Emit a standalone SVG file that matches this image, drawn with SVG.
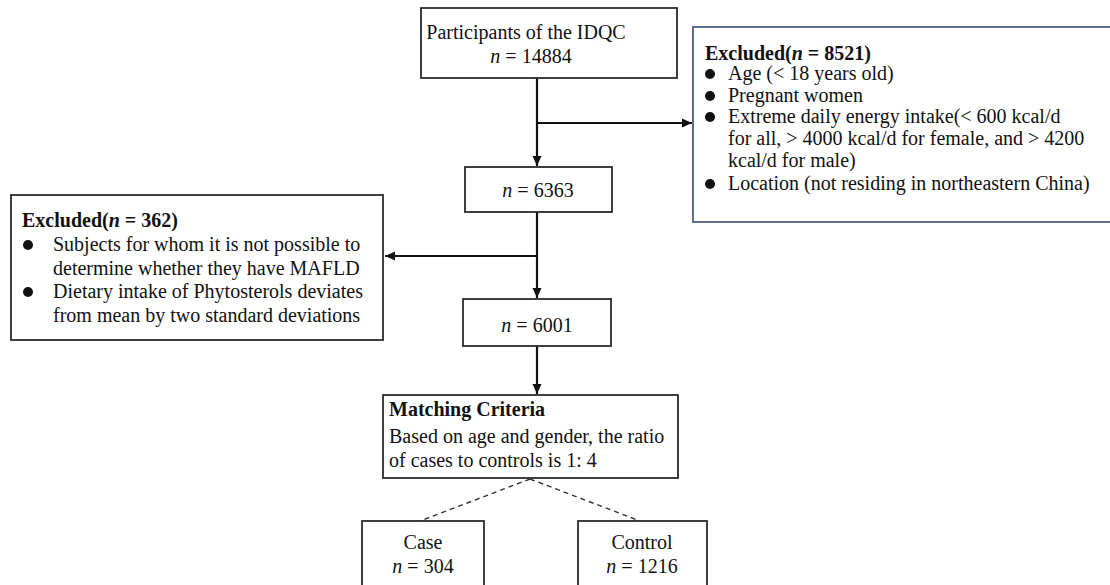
<svg xmlns="http://www.w3.org/2000/svg" width="1110" height="585" viewBox="0 0 1110 585">
<style>
text{font-family:"Liberation Serif","Times New Roman",serif;font-size:20px;fill:#111}
.b{font-weight:bold}
.c{text-anchor:middle}
.box{fill:#fff;stroke:#2b2b2b;stroke-width:1.8}
.bbox{fill:#fff;stroke:#4f5f85;stroke-width:1.8}
.ln{fill:none;stroke:#111;stroke-width:2.2}
.dash{fill:none;stroke:#333;stroke-width:1.4;stroke-dasharray:5,4}
.dot{fill:#111}
</style>
<defs>
<marker id="ah" markerWidth="12" markerHeight="12" refX="10" refY="5.5" orient="auto" markerUnits="userSpaceOnUse">
<path d="M0,1 L10,5.5 L0,10 Z" fill="#111"/>
</marker>
</defs>
<rect width="1110" height="585" fill="#fff"/>
<g id="connectors">
<path class="ln" d="M537,78 V166" marker-end="url(#ah)"/>
<path class="ln" d="M537,123 H692" marker-end="url(#ah)"/>
<path class="ln" d="M537,212 V298" marker-end="url(#ah)"/>
<path class="ln" d="M537,256 H385" marker-end="url(#ah)"/>
<path class="ln" d="M537,346 V394" marker-end="url(#ah)"/>
<path class="dash" d="M530,479 L420,521"/>
<path class="dash" d="M530,479 L640,521"/>
</g>
<g id="participants">
<rect class="box" x="421" y="8" width="256" height="70"/>
<text class="c" x="526" y="39">Participants of the IDQC</text>
<text class="c" x="531" y="63"><tspan font-style="italic">n</tspan> = 14884</text>
</g>
<g id="excluded1">
<rect class="bbox" x="693" y="27" width="430" height="195"/>
<text class="b" x="705" y="60">Excluded(<tspan font-style="italic">n</tspan> = 8521)</text>
<circle class="dot" cx="710" cy="74" r="5"/>
<text x="728" y="80">Age (&lt; 18 years old)</text>
<circle class="dot" cx="710" cy="96" r="5"/>
<text x="728" y="102">Pregnant women</text>
<circle class="dot" cx="710" cy="117" r="5"/>
<text x="728" y="123">Extreme daily energy intake(&lt; 600 kcal/d</text>
<text x="728" y="145">for all, &gt; 4000 kcal/d for female, and &gt; 4200</text>
<text x="728" y="167">kcal/d for male)</text>
<circle class="dot" cx="710" cy="184" r="5"/>
<text x="728" y="190">Location (not residing in northeastern China)</text>
</g>
<g id="n6363">
<rect class="box" x="465" y="167" width="147" height="45"/>
<text class="c" x="538" y="197"><tspan font-style="italic">n</tspan> = 6363</text>
</g>
<g id="excluded2">
<rect class="box" x="11" y="195" width="372" height="145"/>
<text class="b" x="22" y="227">Excluded(<tspan font-style="italic">n</tspan> = 362)</text>
<circle class="dot" cx="28" cy="245" r="5"/>
<text x="53" y="251">Subjects for whom it is not possible to</text>
<text x="53" y="275">determine whether they have MAFLD</text>
<circle class="dot" cx="28" cy="292" r="5"/>
<text x="53" y="298">Dietary intake of Phytosterols deviates</text>
<text x="53" y="322">from mean by two standard deviations</text>
</g>
<g id="n6001">
<rect class="box" x="463" y="299" width="148" height="47"/>
<text class="c" x="537" y="332"><tspan font-style="italic">n</tspan> = 6001</text>
</g>
<g id="matching">
<rect class="box" x="383" y="395" width="295" height="83"/>
<text class="b" x="389" y="416">Matching Criteria</text>
<text x="389" y="443">Based on age and gender, the ratio</text>
<text x="389" y="467">of cases to controls is 1: 4</text>
</g>
<g id="case">
<rect class="box" x="362" y="521" width="122" height="80"/>
<text class="c" x="423" y="549">Case</text>
<text class="c" x="423" y="573"><tspan font-style="italic">n</tspan> = 304</text>
</g>
<g id="control">
<rect class="box" x="578" y="521" width="129" height="80"/>
<text class="c" x="642" y="549">Control</text>
<text class="c" x="642" y="573"><tspan font-style="italic">n</tspan> = 1216</text>
</g>
</svg>
